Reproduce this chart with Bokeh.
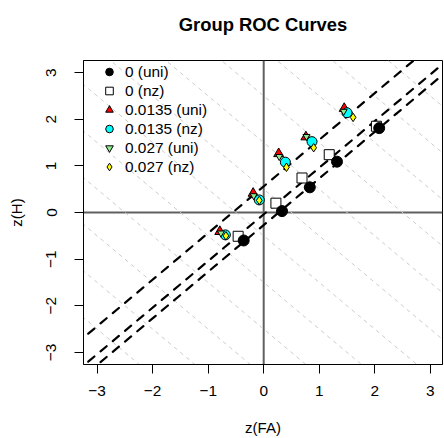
from bokeh.plotting import figure
from bokeh.models import Range1d, FixedTicker, Span, Legend, LegendItem, Title
from bokeh.embed import file_html
from bokeh.resources import INLINE

title_text = "Group ROC Curves"
x_label = "z(FA)"
y_label = "z(H)"
tick_values = [-3, -2, -1, 0, 1, 2, 3]
tick_labels = ["\u22123", "\u22122", "\u22121", "0", "1", "2", "3"]

series_names = ["0 (uni)", "0 (nz)", "0.0135 (uni)", "0.0135 (nz)", "0.027 (uni)", "0.027 (nz)"]

zfa_0_uni = [2.08, 1.32, 0.83, 0.33, -0.36]
zh_0_uni = [1.81, 1.09, 0.54, 0.03, -0.60]
zfa_0_nz = [2.03, 1.18, 0.69, 0.22, -0.46]
zh_0_nz = [1.85, 1.24, 0.74, 0.20, -0.51]
zfa_0135_uni = [1.45, 0.76, 0.27, -0.19, -0.79]
zh_0135_uni = [2.23, 1.62, 1.26, 0.41, -0.41]
zfa_0135_nz = [1.50, 0.87, 0.39, -0.08, -0.69]
zh_0135_nz = [2.14, 1.52, 1.08, 0.27, -0.48]
zfa_027_uni = [1.44, 0.77, 0.28, -0.18, -0.77]
zh_027_uni = [2.17, 1.63, 1.20, 0.36, -0.44]
zfa_027_nz = [1.61, 0.90, 0.41, -0.08, -0.68]
zh_027_nz = [2.04, 1.39, 0.97, 0.26, -0.50]

roc_slopes = [1.0, 1.0, 1.0]
roc_intercepts = [0.56, -0.04, -0.27]
isobias_levels = [-6.5, -5.5, -4.5, -3.5, -2.5, -1.5, -0.5, 0.5, 1.5, 2.5, 3.5, 4.5, 5.5, 6.5]

FONT = "Liberation Sans"

p = figure(width=444, height=438, output_backend="svg", toolbar_location=None,
           x_range=Range1d(-3.245, 3.22), y_range=Range1d(-3.26, 3.26),
           min_border_left=83, min_border_right=2, min_border_top=60, min_border_bottom=74)
p.background_fill_color = "white"
p.border_fill_color = "white"
p.outline_line_color = "black"
p.outline_line_width = 1
p.xgrid.visible = False
p.ygrid.visible = False

# spacer panel next to the frame, then the main title above it
p.add_layout(Title(text=" ", text_font_size="1px", standoff=23), "above")
p.add_layout(Title(text=title_text, align="center", vertical_align="bottom", standoff=0,
                   text_font=FONT, text_font_size="18.4px", text_font_style="bold",
                   text_color="black"), "above")

for ax in (p.xaxis[0], p.yaxis[0]):
    ax.ticker = FixedTicker(ticks=tick_values)
    ax.major_label_overrides = {v: l for v, l in zip(tick_values, tick_labels)}
    ax.major_tick_out = 9
    ax.major_tick_in = 0
    ax.minor_tick_out = 0
    ax.minor_tick_in = 0
    ax.axis_line_color = "black"
    ax.major_tick_line_color = "black"
    ax.major_label_text_font = FONT
    ax.major_label_text_font_size = "15.4px"
    ax.major_label_text_color = "black"
    ax.axis_label_text_font = FONT
    ax.axis_label_text_font_size = "15px"
    ax.axis_label_text_font_style = "normal"
    ax.axis_label_text_color = "black"

p.xaxis.axis_label = x_label
p.yaxis.axis_label = y_label
p.xaxis.major_label_standoff = 12
p.yaxis.major_label_standoff = 18
p.yaxis.major_label_orientation = "vertical"
p.xaxis.axis_label_standoff = 20
p.yaxis.axis_label_standoff = 19

# iso-bias background lines (zH + zFA = c)
iso_x0 = [-10.0 for c in isobias_levels]
iso_x1 = [10.0 for c in isobias_levels]
iso_y0 = [c - x for c, x in zip(isobias_levels, iso_x0)]
iso_y1 = [c - x for c, x in zip(isobias_levels, iso_x1)]
p.segment(iso_x0, iso_y0, iso_x1, iso_y1, line_color="#cccccc", line_width=1, line_dash="4 4")

# zero reference lines
p.add_layout(Span(location=0, dimension="height", line_color="#606060", line_width=2, level="underlay"))
p.add_layout(Span(location=0, dimension="width", line_color="#606060", line_width=2, level="underlay"))

# group ROC lines
rx0 = [-10.0 for b in roc_intercepts]
rx1 = [10.0 for b in roc_intercepts]
ry0 = [b + m * x for b, m, x in zip(roc_intercepts, roc_slopes, rx0)]
ry1 = [b + m * x for b, m, x in zip(roc_intercepts, roc_slopes, rx1)]
p.segment(rx0, ry0, rx1, ry1, line_color="black", line_width=2.2, line_dash="8 8", line_cap="round")

r1 = p.scatter(zfa_0_nz, zh_0_nz, marker="square", size=10, fill_color="white", line_color="black")
r0 = p.scatter(zfa_0_uni, zh_0_uni, marker="circle", size=11, fill_color="black", line_color="black")
r2 = p.scatter(zfa_0135_uni, zh_0135_uni, marker="triangle", size=10, fill_color="red", line_color="black")
r3 = p.scatter(zfa_0135_nz, zh_0135_nz, marker="circle", size=10, fill_color="cyan", line_color="black")
r4 = p.scatter(zfa_027_uni, zh_027_uni, marker="inverted_triangle", size=7, fill_color="#90ee90", line_color="black")
r5 = p.scatter(zfa_027_nz, zh_027_nz, marker="diamond", size=8.5, fill_color="yellow", line_color="black")

renderers = [r0, r1, r2, r3, r4, r5]
legend = Legend(items=[LegendItem(label=n, renderers=[r]) for n, r in zip(series_names, renderers)],
                location=(16, 188), padding=5, spacing=0, margin=0,
                glyph_width=20, glyph_height=19, label_height=19, label_standoff=6,
                label_text_font=FONT, label_text_font_size="15.4px", label_text_color="black",
                border_line_color=None, background_fill_alpha=0)
p.add_layout(legend)

open("out.html", "w").write(file_html(p, INLINE))
